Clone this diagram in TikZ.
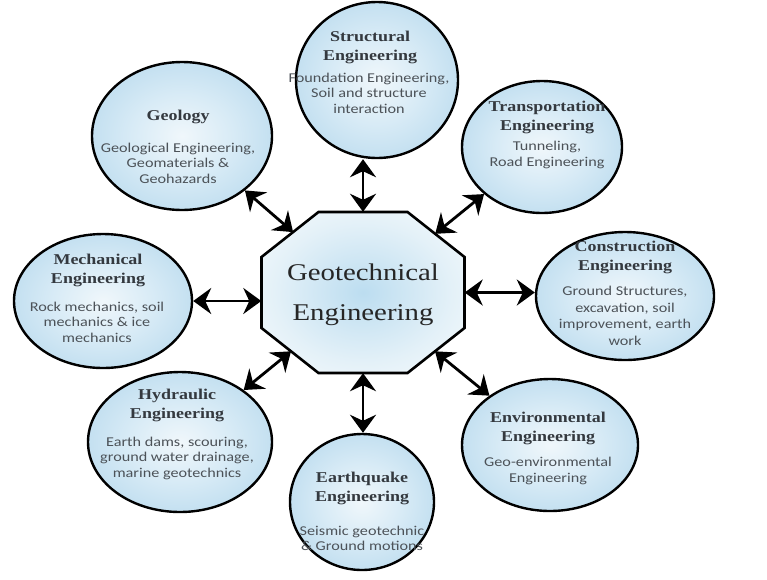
\documentclass[tikz,border=0pt]{standalone}
\usepackage{fontspec}
\setmainfont{Liberation Serif}
\newfontfamily\titf{Liberation Serif}[FakeStretch=1.2]
\newfontfamily\subf{Carlito}[FakeStretch=1.2]
\usetikzlibrary{arrows.meta,shapes.geometric}
\definecolor{bubA}{RGB}{240,247,251}
\definecolor{bubB}{RGB}{216,235,246}
\definecolor{bubC}{RGB}{150,199,228}
\definecolor{octA}{RGB}{188,221,240}
\definecolor{octB}{RGB}{228,241,248}
\definecolor{ttlc}{RGB}{52,57,63}
\definecolor{subc}{RGB}{76,82,88}
\definecolor{cenc}{RGB}{38,38,38}
\pgfdeclareradialshading{bubshade}{\pgfpoint{0bp}{0bp}}{color(0bp)=(bubA); color(14bp)=(bubB); color(50bp)=(bubC); color(70bp)=(bubC)}
\pgfdeclareradialshading{octshade}{\pgfpoint{0bp}{0bp}}{color(0bp)=(octA); color(22bp)=(octB); color(42bp)=(white); color(70bp)=(white)}
\tikzset{
  bub/.style={ellipse, draw=black, line width=2.4pt, shade, shading=bubshade, inner sep=0pt},
  octline/.style={draw=black, line width=2.6pt, shading=octshade, line join=miter},
  ttl/.style={align=center, text=ttlc, font=\titf\bfseries\fontsize{15}{19}\selectfont, inner sep=0pt},
  sub/.style={align=center, text=subc, font=\subf\fontsize{13.5}{15.5}\selectfont, inner sep=0pt},
  cen/.style={align=center, text=cenc, font=\titf\fontsize{24}{40}\selectfont, inner sep=0pt},
  dar/.style={line width=2.8pt, {Stealth[length=18pt,width=26pt,inset=6pt]}-{Stealth[length=18pt,width=26pt,inset=6pt]}}
}
\begin{document}
\begin{tikzpicture}[x=1pt,y=-1pt]
\useasboundingbox[fill=white] (0,0) rectangle (767,579);

% centre octagon
\shadedraw[octline] (261.5,257) -- (318.5,212) -- (407.5,212) -- (464.5,257)
   -- (464.5,328) -- (407.5,373) -- (318.5,373) -- (261.5,328) -- cycle;
\node[rectangle, draw=none, inner sep=0pt, minimum width=203pt, minimum height=161pt] (oct) at (363,292.5) {};
\node[cen] (octT) at (363,295) {Geotechnical\\Engineering};
\coordinate (octNW) at (293.1,232.1);
\coordinate (octNE) at (435.2,233.8);
\coordinate (octSW) at (291.0,351.3);
\coordinate (octSE) at (435.0,351.3);

% bubbles
\node[bub, minimum width=162pt, minimum height=156pt] (str) at (377,80) {};
\node[ttl] (strT) at (370,47.5) {Structural\\Engineering};
\node[sub] (strS) at (369,93) {Foundation Engineering,\\Soil and structure\\interaction};

\node[bub, minimum width=160pt, minimum height=132pt] (tra) at (542,147) {};
\node[ttl] (traT) at (547,117.5) {Transportation\\Engineering};
\node[sub] (traS) at (547,155) {Tunneling,\\Road Engineering};

\node[bub, minimum width=178pt, minimum height=128pt] (con) at (625,296) {};
\node[ttl] (conT) at (625,257) {Construction\\Engineering};
\node[sub, font=\subf\fontsize{13.5}{16.5}\selectfont] (conS) at (625,316) {Ground Structures,\\excavation, soil\\improvement, earth\\work};

\node[bub, minimum width=176pt, minimum height=132pt] (env) at (550,445) {};
\node[ttl] (envT) at (548,428) {Environmental\\Engineering};
\node[sub] (envS) at (548,471) {Geo-environmental\\Engineering};

\node[bub, minimum width=144pt, minimum height=136pt] (eq) at (362,502) {};
\node[ttl] (eqT) at (362,488) {Earthquake\\Engineering};
\node[sub] (eqS) at (362,538.5) {Seismic geotechnic\\\& Ground motions};

\node[bub, minimum width=184pt, minimum height=140pt] (hyd) at (180,442) {};
\node[ttl] (hydT) at (177,405.5) {Hydraulic\\Engineering};
\node[sub] (hydS) at (177,458) {Earth dams, scouring,\\ground water drainage,\\marine geotechnics};

\node[bub, minimum width=178pt, minimum height=134pt] (mec) at (103,301) {};
\node[ttl] (mecT) at (98,270) {Mechanical\\Engineering};
\node[sub] (mecS) at (97,322) {Rock mechanics, soil\\mechanics \& ice\\mechanics};

\node[bub, minimum width=180pt, minimum height=148pt] (geo) at (182,136) {};
\node[ttl] (geoT) at (178,117) {Geology};
\node[sub] (geoS) at (178,163) {Geological Engineering,\\Geomaterials \&\\Geohazards};

% connectors
\draw[dar] (oct.north) -- (oct.north |- str.south);
\draw[dar] (oct.south) -- (oct.south |- eq.north);
\draw[dar] (mec.east) -- (mec.east -| oct.west);
\draw[dar] (oct.east) -- (oct.east -| con.west);
\draw[dar] (geo) -- (octNW);
\draw[dar] (tra) -- (octNE);
\draw[dar] (hyd) -- (octSW);
\draw[dar] (env) -- (octSE);
\end{tikzpicture}
\end{document}
